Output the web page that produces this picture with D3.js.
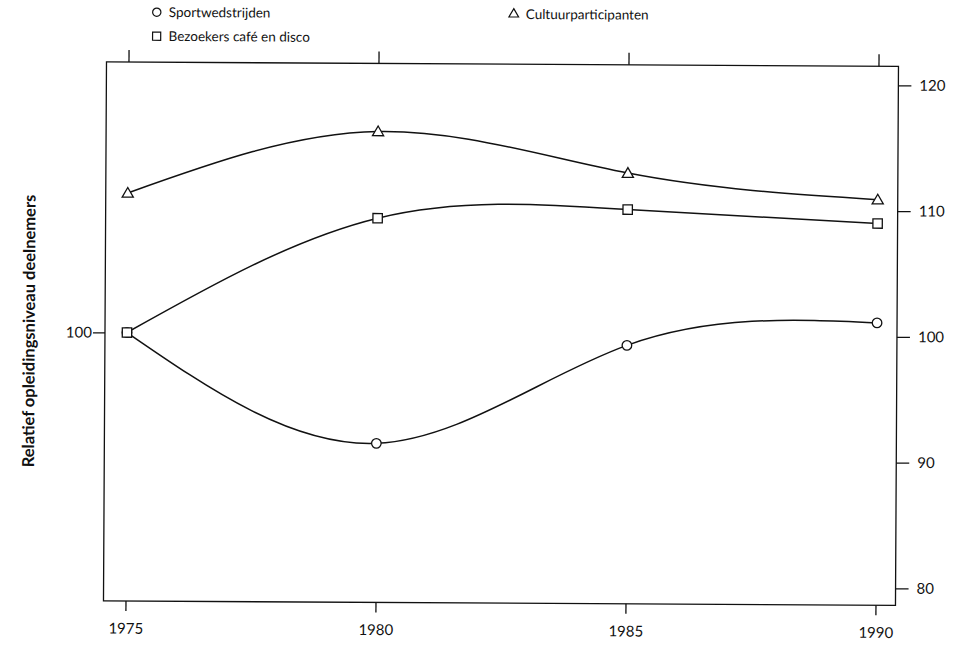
<!DOCTYPE html>
<html>
<head>
<meta charset="utf-8">
<script src="https://cdn.jsdelivr.net/npm/d3@7"></script>
<style>
  html, body { margin: 0; padding: 0; background: #fff; }
  svg { display: block; }
  text { font-family: Lato, "Open Sans", sans-serif; fill: #111; }
</style>
</head>
<body>
<svg id="chart" width="960" height="648"></svg>
<script>
// Survey years and the relative education level of each audience
const years = [1975, 1980, 1985, 1990];
const sportwedstrijden = [100, 91.3, 99.2, 101.1];
const cafeDisco = [100, 109.2, 110.0, 109.0];
const cultuur = [111.1, 116.1, 112.9, 110.9];

const xTicks = [1975, 1980, 1985, 1990];
const yTicksRight = [80, 90, 100, 110, 120];
const yTicksLeft = [100];

const seriesNames = ["Sportwedstrijden", "Bezoekers café en disco", "Cultuurparticipanten"];
const yTitle = "Relatief opleidingsniveau deelnemers";

const series = [
  { name: seriesNames[0], values: sportwedstrijden, symbol: d3.symbolCircle },
  { name: seriesNames[1], values: cafeDisco, symbol: d3.symbolSquare },
  { name: seriesNames[2], values: cultuur, symbol: d3.symbolTriangle }
];

const frame = { left: 105, right: 897, top: 64, bottom: 603 };

const svg = d3.select("#chart");
// the printed figure sits slightly askew on the page
const root = svg.append("g").attr("transform", "rotate(0.32 480 330)");

const x = d3.scaleLinear().domain([1975, 1990]).range([127, 877]);
const y = d3.scaleLinear().domain([80, 120]).range([586, 83]);

// plot frame
root.append("rect")
  .attr("x", frame.left).attr("y", frame.top)
  .attr("width", frame.right - frame.left).attr("height", frame.bottom - frame.top)
  .attr("fill", "none").attr("stroke", "#111").attr("stroke-width", 1.3);

function styleAxis(g, fontSize) {
  g.select(".domain").remove();
  g.selectAll(".tick line").attr("stroke", "#111").attr("stroke-width", 1.3);
  g.selectAll(".tick text").attr("font-size", fontSize).attr("fill", "#111")
    .attr("font-family", "Lato, 'Open Sans', sans-serif");
}

// bottom axis with year labels
root.append("g")
  .attr("transform", `translate(0,${frame.bottom})`)
  .call(d3.axisBottom(x).tickValues(xTicks).tickFormat(d3.format("d")).tickSize(10).tickPadding(12))
  .call(g => styleAxis(g, 15));

// top axis: tick marks only
root.append("g")
  .attr("transform", `translate(0,${frame.top})`)
  .call(d3.axisTop(x).tickValues(xTicks).tickFormat("").tickSize(12))
  .call(g => styleAxis(g, 15));

// right axis
root.append("g")
  .attr("transform", `translate(${frame.right},0)`)
  .call(d3.axisRight(y).tickValues(yTicksRight).tickFormat(d3.format("d")).tickSize(13).tickPadding(8))
  .call(g => styleAxis(g, 15));

// left axis: single reference tick
root.append("g")
  .attr("transform", `translate(${frame.left},0)`)
  .call(d3.axisLeft(y).tickValues(yTicksLeft).tickFormat(d3.format("d")).tickSize(12).tickPadding(1))
  .call(g => styleAxis(g, 15));

// y-axis title
root.append("text")
  .attr("transform", `translate(29,${(frame.top + frame.bottom) / 2}) rotate(-90)`)
  .attr("text-anchor", "middle")
  .attr("dy", "0.35em")
  .attr("font-size", 16.5)
  .attr("font-weight", "bold")
  .text(yTitle);

// smoothed lines
const line = d3.line()
  .x((d, i) => x(years[i]))
  .y(d => y(d))
  .curve(d3.curveNatural);

const plot = root.append("g");
series.forEach(s => {
  plot.append("path")
    .attr("d", line(s.values))
    .attr("fill", "none")
    .attr("stroke", "#111")
    .attr("stroke-width", 1.5);
});

function sizeOf(sym) {
  if (sym === d3.symbolCircle) return 72;
  if (sym === d3.symbolSquare) return 88;
  return 54;
}

series.forEach(s => {
  plot.selectAll(null)
    .data(s.values)
    .join("path")
    .attr("transform", (d, i) => `translate(${x(years[i])},${y(d) + (s.symbol === d3.symbolTriangle ? 1 : 0)})`)
    .attr("d", d3.symbol().type(s.symbol).size(sizeOf(s.symbol)))
    .attr("fill", "#fff")
    .attr("stroke", "#111")
    .attr("stroke-width", 1.3);
});

// legend
const legendItems = [
  { name: seriesNames[0], symbol: d3.symbolCircle, x: 155, y: 14 },
  { name: seriesNames[1], symbol: d3.symbolSquare, x: 155, y: 38 },
  { name: seriesNames[2], symbol: d3.symbolTriangle, x: 512, y: 14 }
];
const legend = root.append("g");
legendItems.forEach(it => {
  legend.append("path")
    .attr("transform", `translate(${it.x},${it.y})`)
    .attr("d", d3.symbol().type(it.symbol).size(sizeOf(it.symbol) * 0.75))
    .attr("fill", "#fff").attr("stroke", "#111").attr("stroke-width", 1.2);
  legend.append("text")
    .attr("x", it.x + 12).attr("y", it.y)
    .attr("dy", "0.35em")
    .attr("font-size", 13.5)
    .text(it.name);
});
</script>
</body>
</html>
